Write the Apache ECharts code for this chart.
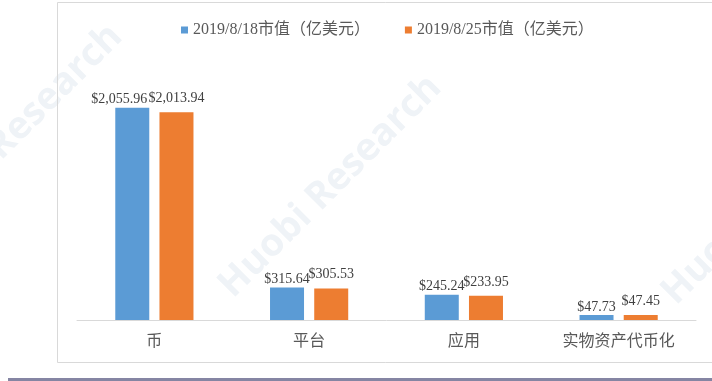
<!DOCTYPE html>
<html>
<head>
<meta charset="utf-8">
<script src="https://cdn.jsdelivr.net/npm/echarts@6/dist/echarts.min.js"></script>
<style>html,body{margin:0;padding:0;background:#fff;}#c{width:712px;height:381px;}</style>
</head>
<body>
<div id="c"></div>
<script>
const categories = ['币', '平台', '应用', '实物资产代币化'];
const seriesNames = ['2019/8/18市值（亿美元）', '2019/8/25市值（亿美元）'];
const values0818 = [2055.96, 315.64, 245.24, 47.73];
const values0825 = [2013.94, 305.53, 233.95, 47.45];

const chart = echarts.init(document.getElementById('c'), null, {renderer: 'canvas'});
const fmt = v => '$' + v.toLocaleString('en-US', {minimumFractionDigits: 2, maximumFractionDigits: 2});
const labelFont = {fontFamily: 'Liberation Serif', fontSize: 14, color: '#404040'};
const wm = '#eff3f7';

const blueData = values0818.map((v, i) => i === 0 ? {value: v, label: {offset: [-13, 0]}} : v);

chart.setOption({
  animation: false,
  backgroundColor: '#fff',
  graphic: [
    {type: 'text', z: -10, silent: true, rotation: Math.PI / 4, position: [-20, 140],
     style: {text: 'Research', fill: wm, font: 'bold 38px "Open Sans"'}},
    {type: 'text', z: -10, silent: true, rotation: Math.PI / 4, position: [212, 278],
     style: {text: 'Huobi Research', fill: wm, font: 'bold 38px "Open Sans"'}},
    {type: 'text', z: -10, silent: true, rotation: Math.PI / 4, position: [655, 285],
     style: {text: 'Huobi', fill: wm, font: 'bold 38px "Open Sans"'}},
    {type: 'rect', shape: {x: 57.5, y: 2.5, width: 700, height: 360}, z: -5, silent: true,
     style: {fill: 'none', stroke: '#d9d9d9', lineWidth: 1}},
    {type: 'rect', shape: {x: 8, y: 378, width: 710, height: 3}, silent: true,
     style: {fill: '#8585a3'}}
  ],
  legend: {
    data: seriesNames,
    left: 176, top: 17,
    icon: 'rect', itemWidth: 7, itemHeight: 7, itemGap: 35,
    textStyle: {fontFamily: 'Liberation Serif, "Noto Sans CJK SC"', fontSize: 16, color: '#595959'}
  },
  grid: {left: 77, right: 16, top: 62, bottom: 61, containLabel: false},
  xAxis: {
    type: 'category', data: categories,
    axisLine: {lineStyle: {color: '#d9d9d9'}},
    axisTick: {show: false},
    axisLabel: {fontFamily: '"Noto Sans CJK SC"', fontSize: 16, color: '#595959', margin: 12}
  },
  yAxis: {type: 'value', min: 0, max: 2500, show: false, splitLine: {show: false}},
  series: [
    {name: seriesNames[0], type: 'bar', data: blueData, barWidth: 34, barGap: '30%',
     itemStyle: {color: '#5b9bd5'},
     label: Object.assign({show: true, position: 'top', distance: 1, formatter: p => fmt(p.value)}, labelFont)},
    {name: seriesNames[1], type: 'bar', data: values0825, barWidth: 34,
     itemStyle: {color: '#ed7d31'},
     label: Object.assign({show: true, position: 'top', distance: 7, formatter: p => fmt(p.value)}, labelFont)}
  ]
});
</script>
</body>
</html>
